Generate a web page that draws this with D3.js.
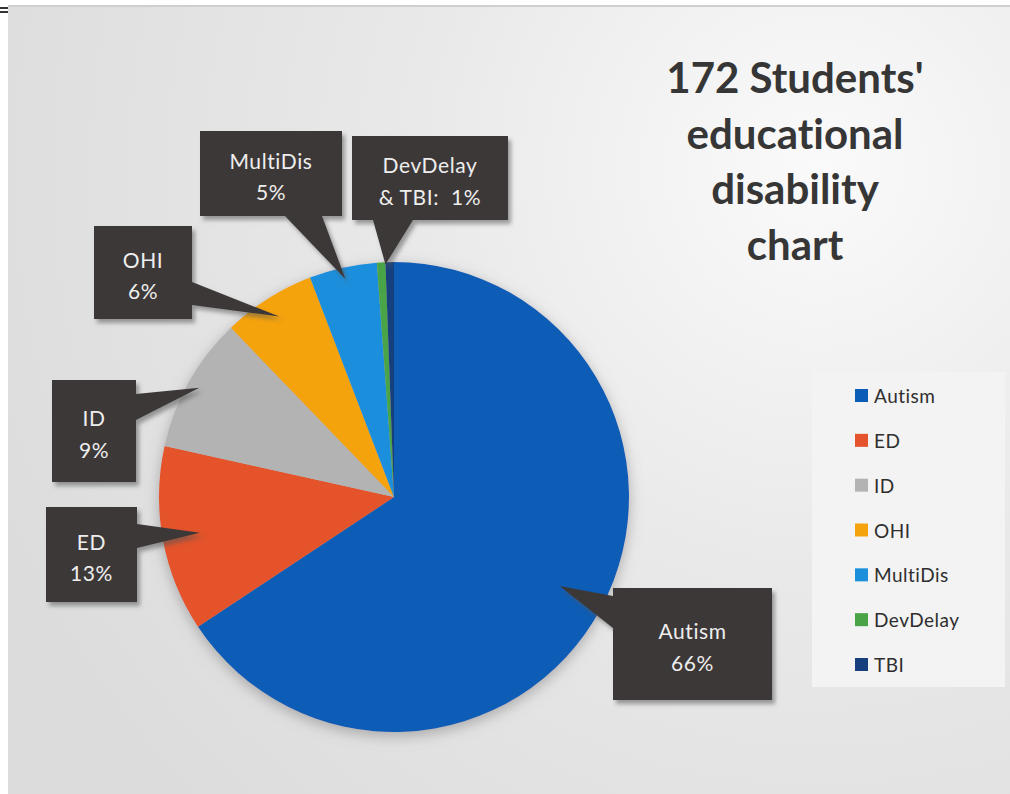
<!DOCTYPE html>
<html>
<head>
<meta charset="utf-8">
<script src="https://cdn.jsdelivr.net/npm/d3@7"></script>
<style>
  html, body { margin: 0; padding: 0; background: #ffffff; }
  svg { display: block; }
  text { font-variant-ligatures: none; white-space: pre; }
</style>
</head>
<body>
<svg id="chart" width="1010" height="794"></svg>
<script>
// ---- data ----
const categories = ["Autism", "ED", "ID", "OHI", "MultiDis", "DevDelay", "TBI"];
const counts = [113, 22, 16, 11, 8, 1, 1];
const colors = ["#0b5cb6", "#e4532b", "#b3b3b3", "#f5a30c", "#1a8fdc", "#4aa447", "#173f7d"];
const titleLines = ["172 Students'", "educational", "disability", "chart"];
// callouts: label lines and which slices they point to
const calloutLines = [
  ["Autism", "66%"],
  ["ED", "13%"],
  ["ID", "9%"],
  ["OHI", "6%"],
  ["MultiDis", "5%"],
  ["DevDelay", "& TBI:  1%"]
];
const calloutSlices = [[0], [1], [2], [3], [4], [5, 6]];

// ---- layout ----
const W = 1010, H = 794;
const cx = 394, cy = 497, R = 235;
const font = "Lato, 'Open Sans', sans-serif";

const svg = d3.select("#chart");
const defs = svg.append("defs");

const bg = defs.append("radialGradient").attr("id", "bg")
  .attr("gradientUnits", "userSpaceOnUse")
  .attr("cx", 820).attr("cy", 170).attr("r", 900);
bg.append("stop").attr("offset", 0).attr("stop-color", "#fafafa");
bg.append("stop").attr("offset", 0.45).attr("stop-color", "#e9e9e9");
bg.append("stop").attr("offset", 1).attr("stop-color", "#dcdcdc");

const pieShadow = defs.append("filter").attr("id", "pieShadow")
  .attr("x", "-20%").attr("y", "-20%").attr("width", "140%").attr("height", "140%");
pieShadow.append("feDropShadow").attr("dx", 0).attr("dy", 4).attr("stdDeviation", 7)
  .attr("flood-color", "#7a7a7a").attr("flood-opacity", 0.55);

const boxShadow = defs.append("filter").attr("id", "boxShadow")
  .attr("x", "-20%").attr("y", "-20%").attr("width", "140%").attr("height", "140%");
boxShadow.append("feDropShadow").attr("dx", 3).attr("dy", 4).attr("stdDeviation", 2)
  .attr("flood-color", "#555").attr("flood-opacity", 0.55);

// background (slide)
svg.append("rect").attr("x", 8).attr("y", 6).attr("width", W - 8).attr("height", H - 6)
  .attr("fill", "url(#bg)");
svg.append("line").attr("x1", 8).attr("x2", W).attr("y1", 6).attr("y2", 6)
  .attr("stroke", "#cfcfcf").attr("stroke-width", 2);
svg.append("rect").attr("x", 0).attr("y", 7).attr("width", 8).attr("height", 2).attr("fill", "#333");
svg.append("rect").attr("x", 0).attr("y", 11).attr("width", 8).attr("height", 2).attr("fill", "#333");

// ---- pie ----
const pie = d3.pie().sort(null).value(d => d)(counts);
const arc = d3.arc().innerRadius(0).outerRadius(R);

const pg = svg.append("g").attr("transform", `translate(${cx},${cy})`);
pg.append("g").attr("filter", "url(#pieShadow)")
  .selectAll("path").data(pie).join("path")
  .attr("d", arc)
  .attr("fill", (d, i) => colors[i]);

// ---- callouts ----
const boxes = [
  { x: 613, y: 588, w: 159, h: 112, base: [[613, 596], [613, 628]], rf: 0.80 },
  { x: 46,  y: 507, w: 91,  h: 95,  base: [[137, 524], [137, 548]], rf: 0.84 },
  { x: 52,  y: 380, w: 84,  h: 102, base: [[136, 394], [136, 420]], rf: 0.95 },
  { x: 94,  y: 226, w: 98,  h: 93,  base: [[192, 282], [192, 305]], rf: 0.91 },
  { x: 200, y: 131, w: 142, h: 85,  base: [[285, 216], [322, 216]], rf: 0.95 },
  { x: 352, y: 136, w: 156, h: 84,  base: [[373, 220], [413, 220]], rf: 0.99 }
];

const cg = svg.append("g");
calloutLines.forEach((lines, k) => {
  const sl = calloutSlices[k].map(i => pie[i]);
  const a0 = d3.min(sl, d => d.startAngle), a1 = d3.max(sl, d => d.endAngle);
  const mid = (a0 + a1) / 2;
  const b = boxes[k];
  const tip = [cx + Math.sin(mid) * R * b.rf, cy - Math.cos(mid) * R * b.rf];
  const p = d3.path();
  p.rect(b.x, b.y, b.w, b.h);
  p.moveTo(b.base[0][0], b.base[0][1]);
  p.lineTo(tip[0], tip[1]);
  p.lineTo(b.base[1][0], b.base[1][1]);
  p.closePath();
  const g = cg.append("g");
  g.append("path").attr("d", p.toString()).attr("fill", "#3d3839")
    .attr("filter", "url(#boxShadow)");
  const tx = b.x + b.w / 2;
  const ty = b.y + b.h / 2;
  g.selectAll("text").data(lines).join("text")
    .attr("x", tx)
    .attr("y", (d, i) => ty - 5 + i * 31.5)
    .attr("text-anchor", "middle")
    .attr("font-family", font)
    .attr("font-size", 21)
    .attr("letter-spacing", 0.6)
    .attr("fill", "#eeeeee")
    .text(d => d);
});

// ---- title ----
svg.append("g").selectAll("text").data(titleLines).join("text")
  .attr("x", 795)
  .attr("y", (d, i) => 93 + i * 55.5)
  .attr("text-anchor", "middle")
  .attr("font-family", font)
  .attr("font-weight", "bold")
  .attr("font-size", 42)
  .attr("fill", "#363636")
  .text(d => d);

// ---- legend ----
const lg = svg.append("g");
lg.append("rect").attr("x", 812).attr("y", 372).attr("width", 193).attr("height", 315)
  .attr("fill", "#f3f3f3");
const ly = d3.scalePoint().domain(categories).range([396, 665]);
const items = lg.selectAll("g.item").data(categories).join("g").attr("class", "item")
  .attr("transform", d => `translate(855,${ly(d)})`);
items.append("rect").attr("x", 0).attr("y", -7).attr("width", 13).attr("height", 13)
  .attr("fill", (d, i) => colors[i]);
items.append("text").attr("x", 19).attr("y", 7)
  .attr("font-family", font).attr("font-size", 19).attr("letter-spacing", 0.5)
  .attr("fill", "#2e2e2e")
  .text(d => d);
</script>
</body>
</html>
